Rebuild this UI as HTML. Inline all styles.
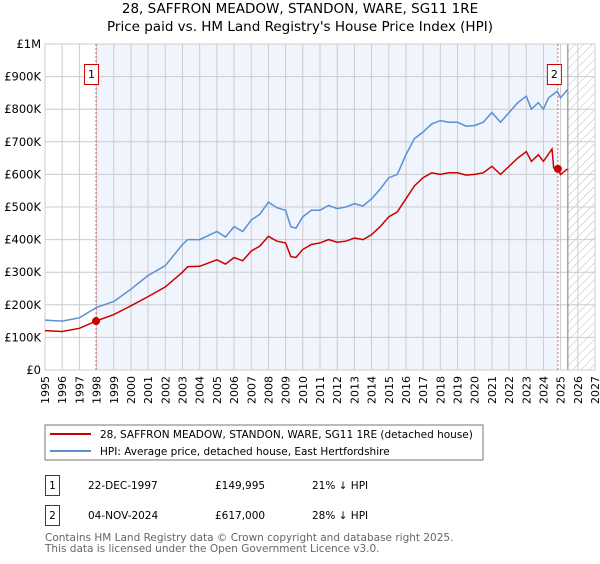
<!DOCTYPE html>
<html><head><meta charset="utf-8"><style>
body{margin:0;background:#fff;width:600px;height:560px;overflow:hidden;font-family:"DejaVu Sans","Liberation Sans",sans-serif;}
svg text{font-family:"DejaVu Sans","Liberation Sans",sans-serif;}
</style></head><body>
<svg id="chart" width="600" height="560" xmlns="http://www.w3.org/2000/svg">
<text x="300" y="13" text-anchor="middle" font-size="13.5">28, SAFFRON MEADOW, STANDON, WARE, SG11 1RE</text>
<text x="300" y="31" text-anchor="middle" font-size="13.5">Price paid vs. HM Land Registry's House Price Index (HPI)</text>
<defs><pattern id="hatch" width="6" height="6" patternUnits="userSpaceOnUse" patternTransform="rotate(45)"><line x1="0" y1="0" x2="0" y2="6" stroke="#bbb" stroke-width="1"/></pattern></defs>
<g id="plot"></g>
<g font-size="11" text-anchor="end">
<text transform="translate(49,376) rotate(-90)">1995</text>
<text transform="translate(66.2,376) rotate(-90)">1996</text>
<text transform="translate(83.4,376) rotate(-90)">1997</text>
<text transform="translate(100.6,376) rotate(-90)">1998</text>
<text transform="translate(117.8,376) rotate(-90)">1999</text>
<text transform="translate(134.9,376) rotate(-90)">2000</text>
<text transform="translate(152.1,376) rotate(-90)">2001</text>
<text transform="translate(169.3,376) rotate(-90)">2002</text>
<text transform="translate(186.5,376) rotate(-90)">2003</text>
<text transform="translate(203.7,376) rotate(-90)">2004</text>
<text transform="translate(220.9,376) rotate(-90)">2005</text>
<text transform="translate(238.1,376) rotate(-90)">2006</text>
<text transform="translate(255.3,376) rotate(-90)">2007</text>
<text transform="translate(272.4,376) rotate(-90)">2008</text>
<text transform="translate(289.6,376) rotate(-90)">2009</text>
<text transform="translate(306.8,376) rotate(-90)">2010</text>
<text transform="translate(324,376) rotate(-90)">2011</text>
<text transform="translate(341.2,376) rotate(-90)">2012</text>
<text transform="translate(358.4,376) rotate(-90)">2013</text>
<text transform="translate(375.6,376) rotate(-90)">2014</text>
<text transform="translate(392.8,376) rotate(-90)">2015</text>
<text transform="translate(409.9,376) rotate(-90)">2016</text>
<text transform="translate(427.1,376) rotate(-90)">2017</text>
<text transform="translate(444.3,376) rotate(-90)">2018</text>
<text transform="translate(461.5,376) rotate(-90)">2019</text>
<text transform="translate(478.7,376) rotate(-90)">2020</text>
<text transform="translate(495.9,376) rotate(-90)">2021</text>
<text transform="translate(513.1,376) rotate(-90)">2022</text>
<text transform="translate(530.3,376) rotate(-90)">2023</text>
<text transform="translate(547.4,376) rotate(-90)">2024</text>
<text transform="translate(564.6,376) rotate(-90)">2025</text>
<text transform="translate(581.8,376) rotate(-90)">2026</text>
<text transform="translate(599,376) rotate(-90)">2027</text>
</g>
<g>
<rect x="45" y="425" width="438" height="35" fill="#fff" stroke="#777"/>
<line x1="50" y1="434" x2="91" y2="434" stroke="#cc0000" stroke-width="2"/>
<text x="100" y="438" font-size="10.5">28, SAFFRON MEADOW, STANDON, WARE, SG11 1RE (detached house)</text>
<line x1="50" y1="451" x2="91" y2="451" stroke="#5b8fd4" stroke-width="2"/>
<text x="100" y="455" font-size="10.5">HPI: Average price, detached house, East Hertfordshire</text>
</g>
<g font-size="10.5">
<rect x="45.5" y="475.5" width="14" height="20" fill="#fff" stroke="#cc0000"/>
<text x="52.5" y="489" text-anchor="middle">1</text>
<text x="88" y="489">22-DEC-1997</text><text x="215" y="489">£149,995</text><text x="312" y="489">21% ↓ HPI</text>
<rect x="45.5" y="505.5" width="14" height="20" fill="#fff" stroke="#cc0000"/>
<text x="52.5" y="519" text-anchor="middle">2</text>
<text x="88" y="519">04-NOV-2024</text><text x="215" y="519">£617,000</text><text x="312" y="519">28% ↓ HPI</text>
</g>
<text x="45" y="541" font-size="10.5" fill="#666">Contains HM Land Registry data © Crown copyright and database right 2025.</text>
<text x="45" y="552" font-size="10.5" fill="#666">This data is licensed under the Open Government Licence v3.0.</text>
</svg>
<script>
const hpiYears=[1995,1996,1997,1998,1999,2000,2001,2002,2003,2003.3,2004,2005,2005.5,2006,2006.5,2007,2007.5,2008,2008.5,2009,2009.3,2009.6,2010,2010.5,2011,2011.5,2012,2012.5,2013,2013.5,2014,2014.5,2015,2015.5,2016,2016.5,2017,2017.5,2018,2018.5,2019,2019.5,2020,2020.5,2021,2021.5,2022,2022.5,2023,2023.3,2023.7,2024,2024.3,2024.8,2025,2025.4];
const hpiValues=[153,150,160,192,210,248,290,320,385,400,400,425,408,440,425,460,478,515,498,490,440,435,470,490,490,505,495,500,510,503,525,555,590,600,660,710,730,755,765,760,760,748,750,760,790,760,790,820,840,800,820,800,835,855,835,860];
const priceYears=[1995,1996,1997,1997.97,1999,2000,2001,2002,2003,2003.3,2004,2005,2005.5,2006,2006.5,2007,2007.5,2008,2008.5,2009,2009.3,2009.6,2010,2010.5,2011,2011.5,2012,2012.5,2013,2013.5,2014,2014.5,2015,2015.5,2016,2016.5,2017,2017.5,2018,2018.5,2019,2019.5,2020,2020.5,2021,2021.5,2022,2022.5,2023,2023.3,2023.7,2024,2024.5,2024.6,2024.84,2025,2025.4];
const priceValues=[121,118,128,150,170,197,225,255,300,317,318,338,325,345,335,365,380,410,395,390,348,345,370,385,390,400,392,395,405,400,415,440,470,485,525,565,590,605,600,605,605,598,600,605,625,600,625,650,670,640,660,640,678,620,617,600,617];
const saleYears=[1997.97,2024.84];
const saleValues=[149.995,617];
const saleLabels=["1","2"];
const yTicks=[0,100,200,300,400,500,600,700,800,900,1000];
const yTickLabels=["£0","£100K","£200K","£300K","£400K","£500K","£600K","£700K","£800K","£900K","£1M"];
const xTicks=[1995,1996,1997,1998,1999,2000,2001,2002,2003,2004,2005,2006,2007,2008,2009,2010,2011,2012,2013,2014,2015,2016,2017,2018,2019,2020,2021,2022,2023,2024,2025,2026,2027];
const X0=45,X1=595,Y0=370,Y1=44;
const xs=y=>X0+(y-1995)/(2027-1995)*(X1-X0);
const ys=v=>Y0-v/1000*(Y0-Y1);
const NS="http://www.w3.org/2000/svg";
const g=document.getElementById('plot');
function mk(t,a){const e=document.createElementNS(NS,t);for(const k in a)e.setAttribute(k,a[k]);g.appendChild(e);return e;}
let e;
e=mk('rect',{x:xs(1997.97),y:Y1,width:xs(2024.84)-xs(1997.97),height:Y0-Y1,fill:'#f0f4fd'});


e=mk('rect',{x:xs(2025.42),y:Y1,width:X1-xs(2025.42),height:Y0-Y1,fill:'url(#hatch)'});


xTicks.forEach(t=>{
 e=mk('line',{x1:xs(t),x2:xs(t),y1:Y1,y2:Y0,stroke:'#ccc','stroke-width':1});
 
 
});
yTicks.forEach((t,i)=>{
 e=mk('line',{x1:X0,x2:X1,y1:ys(t),y2:ys(t),stroke:'#ccc','stroke-width':1});
 
 
 e=mk('text',{x:X0-4,y:ys(t)+4,'font-size':11.5,'text-anchor':'end'});
 e.textContent=yTickLabels[i];
 
 
});
e=mk('line',{x1:xs(2025.42),x2:xs(2025.42),y1:Y1,y2:Y0,stroke:'#777','stroke-width':1});


e=mk('rect',{x:X0,y:Y1,width:X1-X0,height:Y0-Y1,fill:'none',stroke:'#ccc'});


saleYears.forEach((y,i)=>{
 e=mk('line',{x1:xs(y),x2:xs(y),y1:Y1,y2:Y0,stroke:'#e06060','stroke-dasharray':'2,2','stroke-width':1});
 
 
});
function pts(a,b){return a.map((y,i)=>xs(y).toFixed(1)+','+ys(b[i]).toFixed(1)).join(' ');}
e=mk('polyline',{points:pts(hpiYears,hpiValues),fill:'none',stroke:'#5b8fd4','stroke-width':1.5});


e=mk('polyline',{points:pts(priceYears,priceValues),fill:'none',stroke:'#cc0000','stroke-width':1.5});


saleYears.forEach((y,i)=>{
 e=mk('circle',{cx:xs(y),cy:ys(saleValues[i]),r:4,fill:'#cc0000'});
 
 
 const bx=xs(y)-(i===0?11:10);
 e=mk('rect',{x:bx-0.5,y:64.5,width:14,height:20,fill:'#fff',stroke:'#cc0000'});
 
 
 e=mk('text',{x:bx+6.5,y:78,'font-size':11,'text-anchor':'middle'});
 e.textContent=saleLabels[i];
 
 
});
</script>
</body></html>
